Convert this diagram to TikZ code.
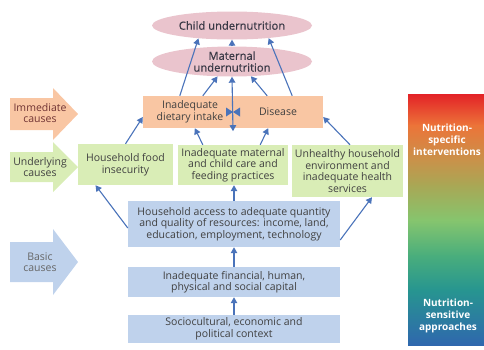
\documentclass[tikz,border=0pt]{standalone}
\usepackage{fontspec}
\setmainfont{Open Sans}
\newfontfamily\semibold[FakeBold=0.6]{Open Sans}
\usetikzlibrary{shapes.geometric,arrows.meta}
\definecolor{pinkfill}{HTML}{EAC4CD}
\definecolor{orangefill}{HTML}{F9C6A3}
\definecolor{greenfill}{HTML}{D9EDB6}
\definecolor{bluefill}{HTML}{BFD2EC}
\definecolor{arrowblue}{HTML}{4A73BA}
\definecolor{txt}{HTML}{404040}
\definecolor{goaltxt}{HTML}{3A3946}
\definecolor{barA}{HTML}{E32227}
\definecolor{barB}{HTML}{EC7439}
\definecolor{barC}{HTML}{C9924A}
\definecolor{barD}{HTML}{A9A755}
\definecolor{barE}{HTML}{86C56E}
\definecolor{barF}{HTML}{4AAE7C}
\definecolor{barG}{HTML}{279590}
\definecolor{barH}{HTML}{2F67AE}
\begin{document}
\begin{tikzpicture}[x=1pt, y=-1pt,
	>={Triangle[width=6.5pt,length=6pt]},
	goal/.style={ellipse, fill=pinkfill, minimum width=160pt, minimum height=28pt, inner sep=0pt, align=center, text=goaltxt, font=\fontsize{11.2}{11.8}\semibold},
	box/.style={inner sep=0pt, align=center, text=txt, font=\fontsize{10.5}{11.5}\selectfont},
	cause/.style={box},
	bartext/.style={align=center, text=white, font=\fontsize{10}{12.2}\selectfont\bfseries},
	link/.style={->, arrowblue, line width=1.1pt}]
	\useasboundingbox (0,0) rectangle (484,349);
	% colour bar
	\foreach \ya/\yb/\ca/\cb in {94/125/barA/barB, 125/160/barB/barC, 160/185/barC/barD, 185/220/barD/barE, 220/255/barE/barF, 255/290/barF/barG, 290/345/barG/barH}
		\shade[top color=\ca, bottom color=\cb] (408,\ya) rectangle (484,{\yb+0.5});
	\node[bartext] (spec) at (447,140) {Nutrition-\\specific\\interventions};
	\node[bartext] (sens) at (448,316) {Nutrition-\\sensitive\\approaches};
	% cause arrows
	\foreach \yc/\hh/\bh/\col in {114/26/16/orangefill, 167/25/15/greenfill, 262/33/20/bluefill}
		\fill[\col] (10,{\yc-\bh}) -- (53,{\yc-\bh}) -- (53,{\yc-\hh}) -- (78,\yc) -- (53,{\yc+\hh}) -- (53,{\yc+\bh}) -- (10,{\yc+\bh}) -- cycle;
	\node[cause, text=black!70!red!80] (imm) at (40,113) {Immediate\\causes};
	\node[cause] (und) at (40,167) {Underlying\\causes};
	\node[cause, text=black!60] (bas) at (40,262) {Basic\\causes};
	% outcomes
	\node[goal] (child) at (232,25.5) {Child undernutrition};
	\node[goal, minimum height=30pt] (mat) at (232,61.5) {Maternal\\undernutrition};
	% immediate
	\node[box, fill=orangefill, minimum width=180pt, minimum height=32pt] (food) at (233,112) {};
	\node[box] (diet) at (190,112) {Inadequate\\dietary intake};
	\node[box] (dis) at (278,112) {Disease};
	% underlying
	\node[box, fill=greenfill, minimum width=95pt, minimum height=41pt] (insec) at (125.5,164.5) {Household food\\insecurity};
	\node[box, fill=greenfill, minimum width=110pt, minimum height=40pt] (care) at (233,165) {Inadequate maternal\\and child care and\\feeding practices};
	\node[box, fill=greenfill, minimum width=111pt, minimum height=52pt] (env) at (347.5,171) {Unhealthy household\\environment and\\inadequate health\\services};
	% basic
	\node[box, fill=bluefill, minimum width=212pt, minimum height=46pt] (access) at (234,224) {Household access to adequate quantity\\and quality of resources: income, land,\\education, employment, technology};
	\node[box, fill=bluefill, minimum width=212pt, minimum height=30pt] (capital) at (234,282) {Inadequate financial, human,\\physical and social capital};
	\node[box, fill=bluefill, minimum width=212pt, minimum height=28pt] (context) at (234,329) {Sociocultural, economic and\\political context};
	% links
	\draw[link] (context.north) -- (capital.south);
	\draw[link] (capital.north) -- (access.south);
	\draw[link] (access.north) -- (access.north |- care.south);
	\draw[link] ([yshift=-4pt]access.west) -- ([xshift=-30pt]insec.south);
	\draw[link] ([yshift=-16pt]access.east) -- ([xshift=24.5pt]env.south);
	\draw[link] (insec.north) -- ([yshift=-5pt]food.west);
	\draw[link] ([xshift=25pt]care.north west) -- ([xshift=52pt]food.south west);
	\draw[link] ([xshift=-28pt]care.north east) -- ([xshift=-55pt]food.south east);
	\draw[link] ([xshift=2.5pt]env.north) -- ([yshift=-5pt]food.east);
	\draw[link, <->] ([yshift=-3pt]food.south) -- (mat.south);
	\fill[arrowblue] (food.center) -- ++(-7,-4.5) -- ++(0,9) -- cycle;
	\fill[arrowblue] (food.center) -- ++(7,-4.5) -- ++(0,9) -- cycle;
	\draw[link] ([xshift=37pt]food.north west) -- (child.201);
	\draw[link] ([xshift=-31pt]food.north east) -- (child.341);
	\draw[link] ([xshift=60pt]food.north west) -- (mat.226);
	\draw[link] ([xshift=-56pt]food.north east) -- (mat.322);
	\draw[link] (mat.north) -- (child.south);
\end{tikzpicture}
\end{document}
